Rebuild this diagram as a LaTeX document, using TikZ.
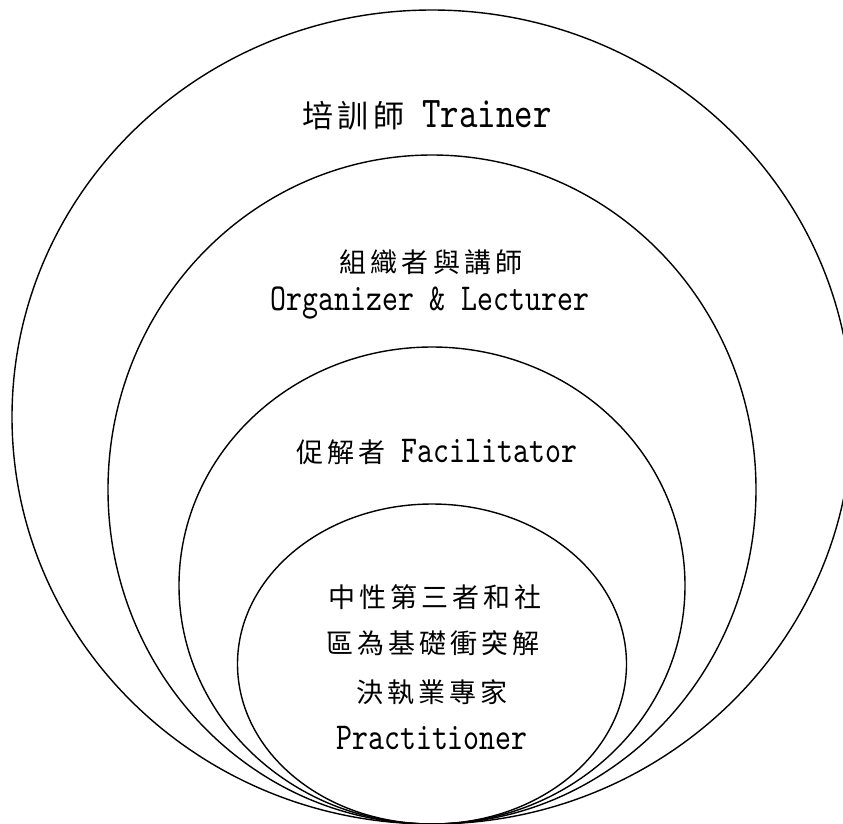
\documentclass[tikz,border=0pt]{standalone}
\usepackage{fontspec}
\newfontfamily\cjk[LetterSpace=15]{Noto Sans CJK TC}
\newfontfamily\lat{lmmono10-regular}[Extension=.otf, FakeStretch=0.8]
\newcommand{\zhtxt}[1]{{\fontsize{27pt}{31pt}\cjk #1}}
\newcommand{\entxt}[1]{{\fontsize{38pt}{40pt}\lat #1}}
\newcommand{\zhbig}[1]{{\fontsize{31pt}{35pt}\cjk #1}}
\newcommand{\enbig}[1]{{\fontsize{44pt}{46pt}\lat #1}}
\usetikzlibrary{shapes.geometric}
\tikzset{
    ring/.style={ellipse, draw, line width=1.4pt, inner sep=0pt},
    txt/.style={inner sep=0pt, anchor=center}
}
\begin{document}
\begin{tikzpicture}[x=1pt, y=-1pt]
    \useasboundingbox (0,0) rectangle (843,823);
    \node[ring, minimum width=840pt, minimum height=814pt] (R1) at (432,417) {};
    \node[ring, minimum width=648pt, minimum height=669pt] (R2) at (432,489.5) {};
    \node[ring, minimum width=506pt, minimum height=477pt] (R3) at (432,585.5) {};
    \node[ring, minimum width=389pt, minimum height=320pt] (R4) at (432,664) {};

    \node[txt] (trainer) at (427,115) {\zhbig{培訓師}\hspace{18pt}\enbig{Trainer}};
    \node[txt] (orgzh) at (431,262) {\zhtxt{組織者與講師}};
    \node[txt] (orgen) at (430,303) {\entxt{Organizer \& Lecturer}};
    \node[txt] (facil) at (437,452) {\zhtxt{促解者}\hspace{16pt}\entxt{Facilitator}};
    \node[txt] (prac1) at (435,597) {\zhtxt{中性第三者和社}};
    \node[txt] (prac2) at (433,643) {\zhtxt{區為基礎衝突解}};
    \node[txt] (prac3) at (432,692) {\zhtxt{決執業專家}};
    \node[txt] (prac4) at (432,738) {\entxt{Practitioner}};
\end{tikzpicture}
\end{document}
